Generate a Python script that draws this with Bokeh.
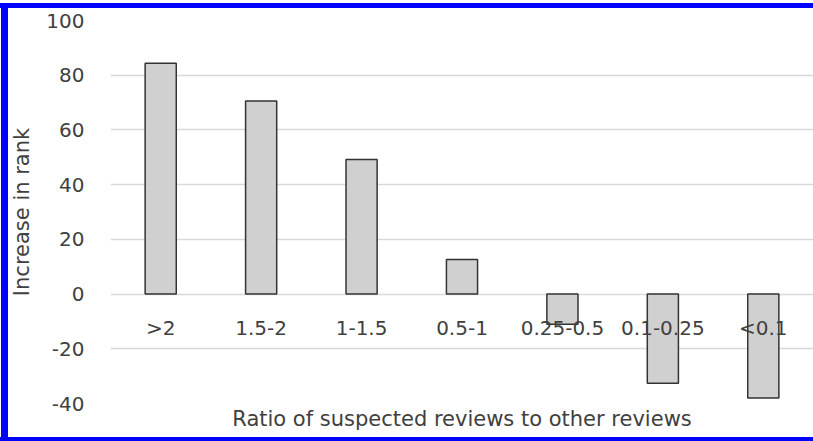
from bokeh.plotting import figure
from bokeh.models import Range1d, FactorRange, Title, FixedTicker
from bokeh.core.properties import value
from bokeh.embed import file_html
from bokeh.resources import INLINE

categories = [">2", "1.5-2", "1-1.5", "0.5-1", "0.25-0.5", "0.1-0.25", "<0.1"]
increase = [84.4, 70.6, 49.2, 12.6, -11.0, -32.6, -38.0]
y_ticks = [-40, -20, 0, 20, 40, 60, 80, 100]

FONT = "DejaVu Sans"
TXT = "#404040"

frame_bg = ", ".join([
    "linear-gradient(to bottom, white 0px, white 3px, blue 3px, blue 8px, "
    "transparent 8px, transparent 437px, blue 437px, blue 441px)",
    "linear-gradient(to right, white 0px, white 1px, blue 1px, blue 8px, transparent 8px)",
    "linear-gradient(white, white)",
])

p = figure(
    x_range=FactorRange(*categories, range_padding=0),
    y_range=Range1d(-40, 100),
    width=813, height=441,
    output_backend="svg", toolbar_location=None,
    min_border_left=110, min_border_right=0,
    min_border_top=20, min_border_bottom=38,
    styles={"position": "absolute", "left": "0px", "top": "0px",
            "width": "813px", "height": "441px", "min-width": "813px",
            "background": frame_bg,
            "background-repeat": "no-repeat",
            "background-size": "813px 441px"},
)
p.border_fill_color = None
p.background_fill_color = None
p.outline_line_color = None
p.xgrid.grid_line_color = None
p.ygrid.grid_line_color = "#d9d9d9"
p.ygrid.grid_line_width = 1.3

p.vbar(x=categories, top=increase, bottom=0, width=0.31,
       fill_color="#d0d0d0", line_color="#333333", line_width=1.5)

label_level = -12.3
p.text(x=categories, y=[label_level] * len(categories), text=categories,
       text_align="center", text_baseline="middle",
       text_font=value(FONT), text_font_size="20px", text_color=TXT)

ya = p.yaxis[0]
ya.ticker = FixedTicker(ticks=y_ticks)
ya.major_label_overrides = {t: str(t) for t in y_ticks}
ya.major_label_text_font = FONT
ya.major_label_text_font_size = "20px"
ya.major_label_text_color = TXT
ya.major_tick_line_color = None
ya.minor_tick_line_color = None
ya.axis_line_color = None
ya.major_label_standoff = 20
ya.axis_label = "Increase in rank"
ya.axis_label_text_font = FONT
ya.axis_label_text_font_size = "21px"
ya.axis_label_text_font_style = "normal"
ya.axis_label_text_color = TXT
ya.axis_label_standoff = 9

p.xaxis.visible = False
p.add_layout(Title(text="Ratio of suspected reviews to other reviews", align="center",
                   text_font=FONT, text_font_size="21px", text_font_style="normal",
                   text_color=TXT, standoff=2), "below")

open("out.html", "w").write(file_html(p, INLINE))
